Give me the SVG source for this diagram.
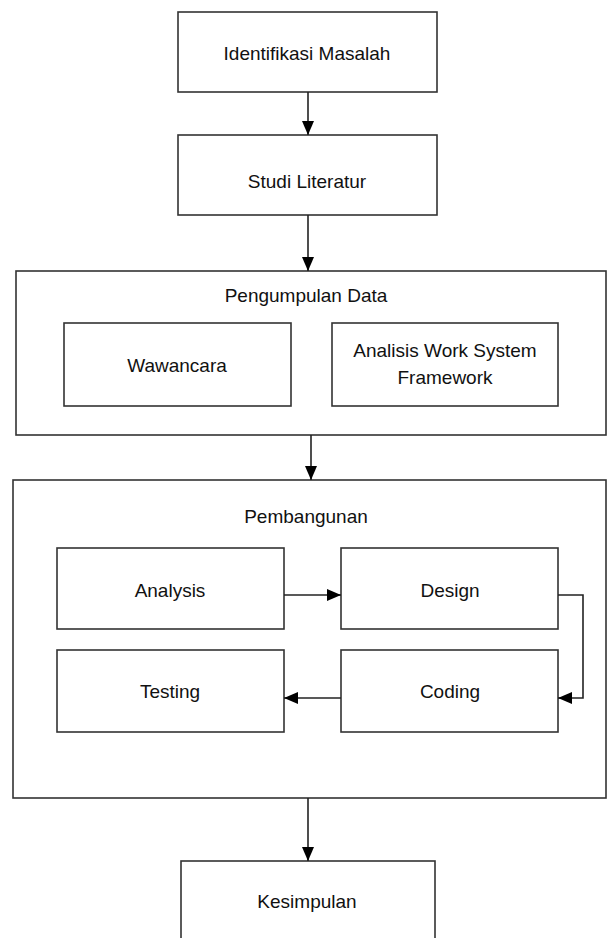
<svg xmlns="http://www.w3.org/2000/svg" width="608" height="938" viewBox="0 0 608 938">
<style>
.box{fill:#fff;stroke:#333;stroke-width:1.6}
.t{font-family:"Liberation Sans",Arial,sans-serif;font-size:19px;fill:#111;text-anchor:middle}
.c{fill:none;stroke:#222;stroke-width:1.6}
</style>
<defs>
<marker id="ah" viewBox="0 0 14 12" refX="14" refY="6" markerWidth="14" markerHeight="12" markerUnits="userSpaceOnUse" orient="auto">
<path d="M0,0 L14,6 L0,12 Z" fill="#000"/>
</marker>
</defs>
<rect width="608" height="938" fill="#fff"/>
<g id="identifikasi">
<rect class="box" x="178" y="12" width="259" height="80"/>
<text class="t" x="307" y="60">Identifikasi Masalah</text>
</g>
<g id="studi">
<rect class="box" x="178" y="135" width="259" height="80"/>
<text class="t" x="307" y="188">Studi Literatur</text>
</g>
<g id="pengumpulan">
<rect class="box" x="16" y="271" width="590" height="164"/>
<text class="t" x="306" y="302">Pengumpulan Data</text>
</g>
<g id="wawancara">
<rect class="box" x="64" y="323" width="227" height="83"/>
<text class="t" x="177" y="372">Wawancara</text>
</g>
<g id="analisis">
<rect class="box" x="332" y="323" width="226" height="83"/>
<text class="t" x="445" y="357">Analisis Work System</text>
<text class="t" x="445" y="384">Framework</text>
</g>
<g id="pembangunan">
<rect class="box" x="13" y="480" width="593" height="318"/>
<text class="t" x="306" y="523">Pembangunan</text>
</g>
<g id="analysis">
<rect class="box" x="57" y="548" width="227" height="81"/>
<text class="t" x="170" y="597">Analysis</text>
</g>
<g id="design">
<rect class="box" x="341" y="548" width="217" height="81"/>
<text class="t" x="450" y="597">Design</text>
</g>
<g id="testing">
<rect class="box" x="57" y="650" width="227" height="82"/>
<text class="t" x="170" y="698">Testing</text>
</g>
<g id="coding">
<rect class="box" x="341" y="650" width="217" height="82"/>
<text class="t" x="450" y="698">Coding</text>
</g>
<g id="kesimpulan">
<rect class="box" x="181" y="861" width="254" height="100"/>
<text class="t" x="307" y="908">Kesimpulan</text>
</g>
<g id="connectors">
<path class="c" d="M308,92 V135" marker-end="url(#ah)"/>
<path class="c" d="M308,215 V271" marker-end="url(#ah)"/>
<path class="c" d="M311,435 V480" marker-end="url(#ah)"/>
<path class="c" d="M308,798 V861" marker-end="url(#ah)"/>
<path class="c" d="M284,595 H341" marker-end="url(#ah)"/>
<path class="c" d="M558,595 H583 V698 H558" marker-end="url(#ah)"/>
<path class="c" d="M341,698 H284" marker-end="url(#ah)"/>
</g>
</svg>
